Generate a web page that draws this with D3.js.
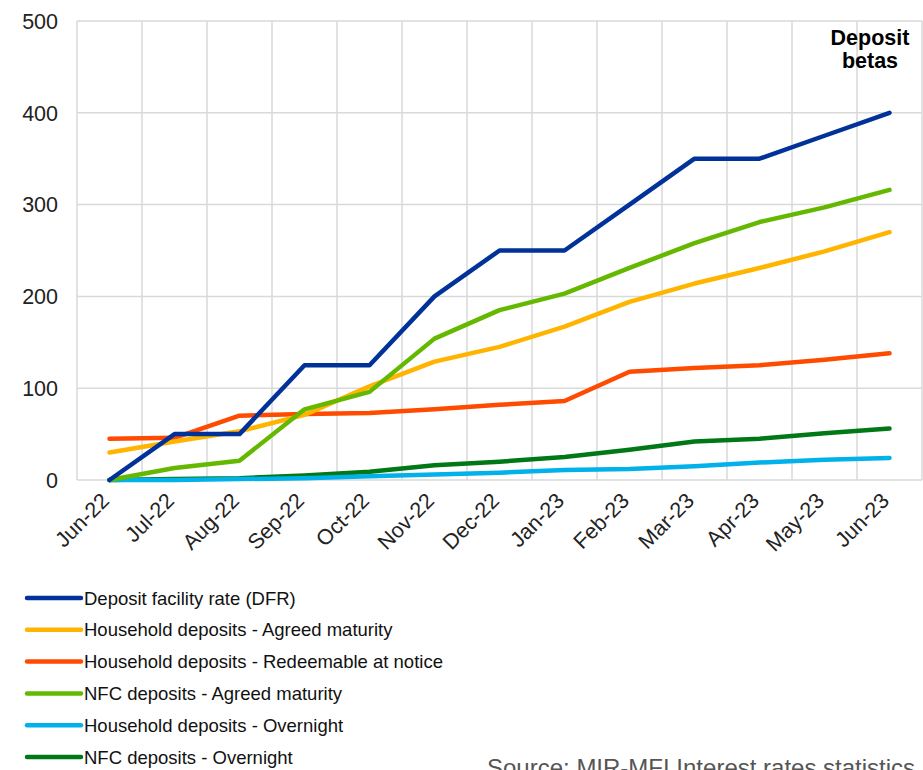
<!DOCTYPE html>
<html><head><meta charset="utf-8">
<script src="https://cdn.jsdelivr.net/npm/d3@7"></script>
<style>body{margin:0;background:#fff}svg{display:block}</style>
</head><body>
<svg id="c" width="923" height="770"></svg>
<script>
const months = ["Jun-22","Jul-22","Aug-22","Sep-22","Oct-22","Nov-22","Dec-22","Jan-23","Feb-23","Mar-23","Apr-23","May-23","Jun-23"];
const yTicks = [0,100,200,300,400,500];
const dfr        = [0,50,50,125,125,200,250,250,300,350,350,375,400];
const hhAgreed   = [30,42,53,71,102,129,145,167,194,214,231,249,270];
const hhNotice   = [45,46,70,72,73,77,82,86,118,122,125,131,138];
const nfcAgreed  = [0,13,21,77,96,154,185,203,231,258,281,297,316];
const hhOvernight= [0,0,1,2,4,6,8,11,12,15,19,22,24];
const nfcOvernight=[0,1,2,5,9,16,20,25,33,42,45,51,56];
const seriesNames = ["Deposit facility rate (DFR)","Household deposits - Agreed maturity","Household deposits - Redeemable at notice","NFC deposits - Agreed maturity","Household deposits - Overnight","NFC deposits - Overnight"];
const seriesColors = ["#003299","#FFB400","#FF4B00","#65B800","#00B1EA","#007816"];
const seriesValues = [dfr,hhAgreed,hhNotice,nfcAgreed,hhOvernight,nfcOvernight];
// draw order (back to front)
const drawOrder = [5,4,2,1,3,0];

const svg = d3.select("#c");
const font = "'Liberation Sans', Arial, sans-serif";
const L = 77, R = 922, T = 21, B = 480;
const x = d3.scaleBand().domain(months).range([L, R]);
const y = d3.scaleLinear().domain([0,500]).range([B, T]);
const cx = m => x(m) + x.bandwidth()/2;

const g = svg.append("g");
// horizontal grid
g.selectAll("line.h").data(yTicks).join("line")
  .attr("x1", L).attr("x2", R).attr("y1", d=>y(d)).attr("y2", d=>y(d))
  .attr("stroke", "#d9d9d9").attr("stroke-width", 1.5);
// vertical grid at band boundaries
const vb = months.map(m => x(m)).concat([R]);
g.selectAll("line.v").data(vb).join("line")
  .attr("x1", d=>d).attr("x2", d=>d).attr("y1", T).attr("y2", B)
  .attr("stroke", "#d9d9d9").attr("stroke-width", 1.5);

// y axis labels
g.selectAll("text.y").data(yTicks).join("text")
  .attr("x", 58).attr("y", d=>y(d)).attr("dy","0.36em")
  .attr("text-anchor","end").attr("font-family",font).attr("font-size",21.5).attr("fill","#222")
  .text(d=>d);

// x axis labels
g.selectAll("text.x").data(months).join("text")
  .attr("transform", d=>`translate(${cx(d)+1},${B+22}) rotate(-45)`)
  .attr("text-anchor","end").attr("font-family",font).attr("font-size",21.5).attr("fill","#222")
  .text(d=>d);

const line = d3.line().x((d,i)=>cx(months[i])).y(d=>y(d));
drawOrder.forEach(k=>{
  g.append("path").attr("d", line(seriesValues[k]))
    .attr("fill","none").attr("stroke",seriesColors[k]).attr("stroke-width",4.5)
    .attr("stroke-linejoin","round").attr("stroke-linecap","round");
});

// annotation
const ann = g.append("text").attr("font-family",font).attr("font-size",21.5).attr("font-weight","bold")
  .attr("text-anchor","middle").attr("fill","#000");
ann.append("tspan").attr("x",870).attr("y",45).text("Deposit");
ann.append("tspan").attr("x",870).attr("y",68).text("betas");

// legend
const lg = svg.append("g");
seriesNames.forEach((n,i)=>{
  const yy = 598 + i*31.8;
  lg.append("line").attr("x1",27).attr("x2",81).attr("y1",yy).attr("y2",yy)
    .attr("stroke",seriesColors[i]).attr("stroke-width",4.5).attr("stroke-linecap","round");
  lg.append("text").attr("x",84).attr("y",yy).attr("dy","0.36em")
    .attr("font-family",font).attr("font-size",18.5).attr("fill","#111").text(n);
});

// source
svg.append("text").attr("x",487).attr("y",776).attr("font-family",font).attr("font-size",24)
  .attr("fill","#555").text("Source: MIR-MFI Interest rates statistics");
</script>
</body></html>
